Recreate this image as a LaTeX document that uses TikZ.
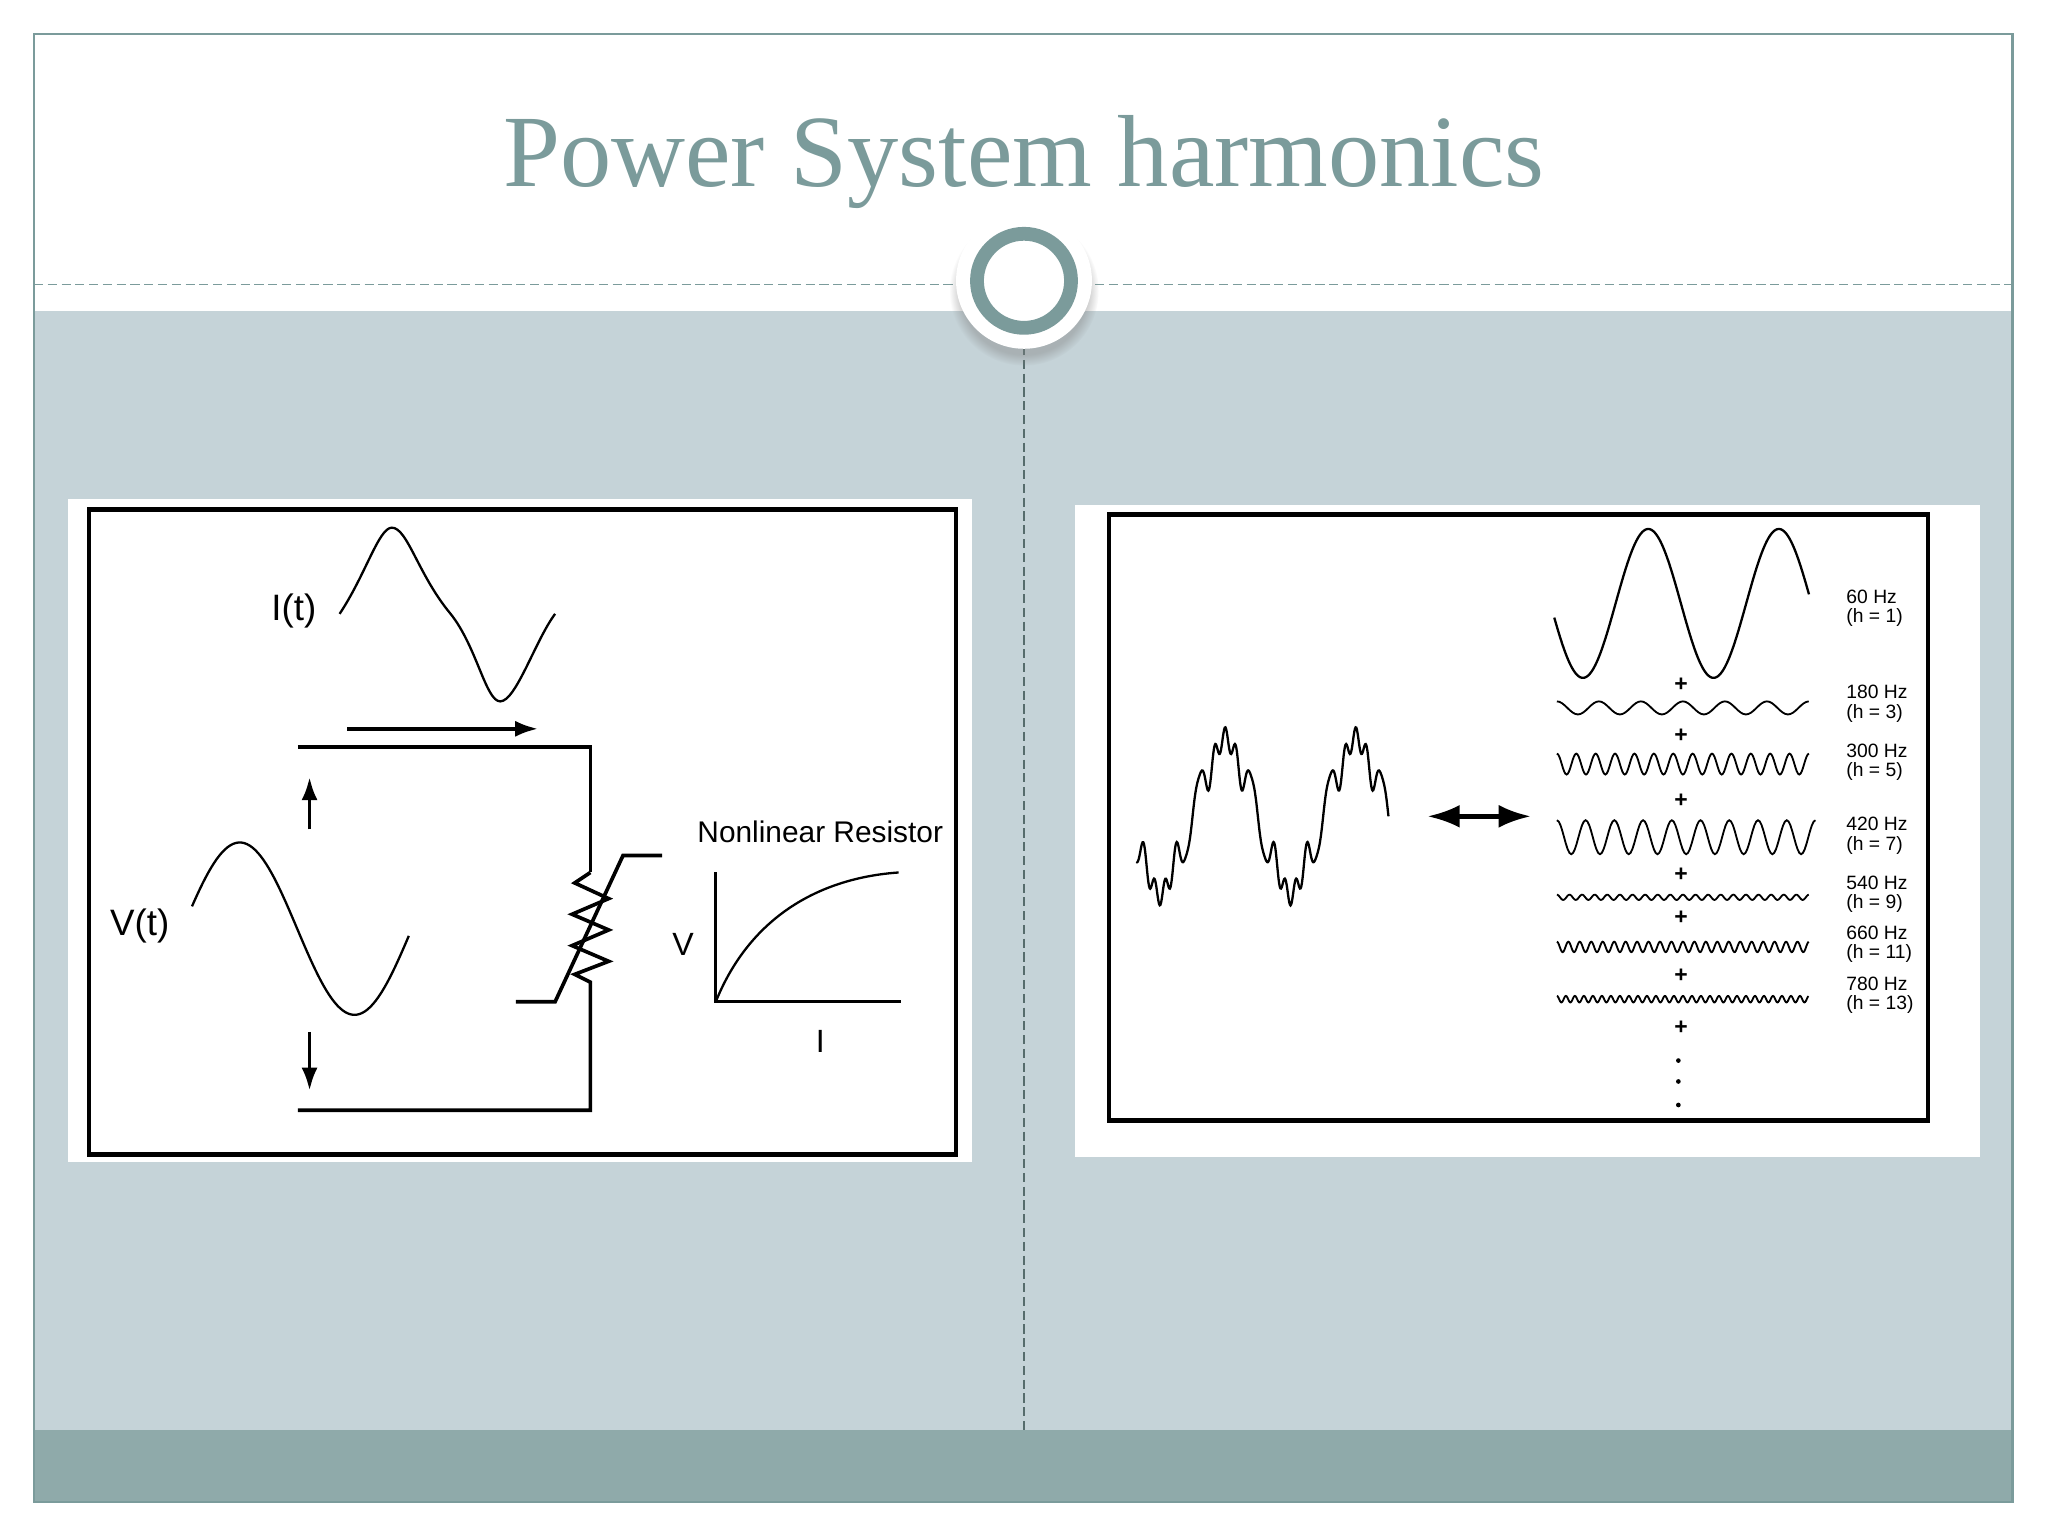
\documentclass[tikz,border=0pt]{standalone}
\usepackage{fontspec}
\setmainfont{Liberation Sans}
\newfontfamily\ttl{Liberation Serif}
\usetikzlibrary{arrows.meta,shadows}
\definecolor{teal}{HTML}{7B9B9B}
\definecolor{bg}{HTML}{C5D3D8}
\definecolor{band}{HTML}{8FAAAA}
\begin{document}
\begin{tikzpicture}[x=0.01cm,y=-0.01cm,
  wave/.style={line width=0.5pt},
  lbl/.style={font=\fontsize{4.2}{5}\selectfont,anchor=west,inner sep=0},
  plus/.style={font=\fontsize{5}{5}\selectfont\bfseries,inner sep=0},
  arr/.style={-{Latex[length=5pt,width=3.5pt]},line width=0.8pt}]
\useasboundingbox (0,0) rectangle (1568,1176);
\fill[white] (0,0) rectangle (1568,1176);
\fill[bg] (26,238) rectangle (1541,1095);
\fill[band] (26,1095) rectangle (1541,1150);
\draw[teal,line width=0.6pt] (26,26) rectangle (1541,1150);
\node[font=\ttl\fontsize{22.3}{26}\selectfont,text=teal] (title) at (784,124) {Power System harmonics};
\draw[teal,dash pattern=on 2pt off 1pt,line width=0.3pt] (26,218) -- (1541,218);
\draw[teal!70!black,dash pattern=on 2pt off 1pt,line width=0.3pt] (784,265) -- (784,1095);
\node[circle,fill=white,minimum size=1.04cm,inner sep=0,circular drop shadow={shadow xshift=0pt,shadow yshift=-2pt,opacity=0.4}] (ring) at (784,215) {};
\draw[teal,line width=3pt] (ring.center) circle[radius=36];
% left panel
\fill[white] (52,382) rectangle (744,890);
\draw[line width=1pt] (68,390) rectangle (732,884);
\node[font=\fontsize{8}{9}\selectfont] (it) at (225,468) {I(t)};
\draw[wave] (260,470) .. controls (280,440) and (290,404) .. (300,404) .. controls (312,404) and (320,440) .. (345,470) .. controls (365,495) and (372,537) .. (383,537) .. controls (395,537) and (410,490) .. (425,470);
\coordinate (a1) at (266,558); \coordinate (a2) at (412,558);
\draw[arr] (a1) -- (a2);
\draw[line width=0.8pt] (228,572) -- (452,572) -- (452,668);
\draw[line width=0.8pt] (452,668) -- (440,676) -- (466,688) -- (438,700) -- (466,712) -- (438,724) -- (466,736) -- (440,746) -- (452,752) -- (452,850) -- (228,850);
\draw[line width=0.8pt] (395,767) -- (425,767) -- (477,655) -- (507,655);
\draw[arr] (237,635) -- (237,595);
\draw[arr] (237,790) -- (237,835);
\node[font=\fontsize{8}{9}\selectfont] (vt) at (107,709) {V(t)};
\draw[wave] plot[domain=0:315,samples=80] ({147+\x/315*166},{711-66*sin(\x*1.08+15)});
\node[font=\fontsize{6.5}{8}\selectfont] (nr) at (628,637) {Nonlinear Resistor};
\draw[line width=0.6pt] (548,668) -- (548,767) -- (690,767);
\draw[wave] (548,767) .. controls (575,700) and (630,672) .. (688,668);
\node[font=\fontsize{7}{8}\selectfont] (v) at (523,723) {V};
\node[font=\fontsize{7}{8}\selectfont] (i) at (628,797) {I};
% right panel
\fill[white] (823,387) rectangle (1516,886);
\draw[line width=1pt] (849,394) rectangle (1476,858);
\draw[wave] plot[domain=205:900,samples=400] ({870+(\x-205)/3.6},{625-55*(sin(\x)+0.18*sin(5*\x)+0.12*sin(7*\x)-0.1*sin(11*\x)+0.08*sin(13*\x))});
\coordinate (d1) at (1093,625); \coordinate (d2) at (1172,625);
\draw[{Latex[length=7pt,width=5pt]}-{Latex[length=7pt,width=5pt]},line width=1pt] (d1) -- (d2);
\draw[wave] plot[domain=191:893,samples=200] ({1190+(\x-191)/3.6},{462-57*sin(\x)});
\foreach \yy/\amp/\cyc/\xe in {542/5/6/1385, 585/8/13/1385, 641/13/9/1390, 687/2/20/1385, 725/4/22/1385, 765/2.5/28/1385}{
  \draw[line width=0.4pt] plot[domain=0:1,samples=\cyc*16+1] ({1192+\x*(\xe-1192)},{\yy-\amp*cos(\x*\cyc*360)});
}
\foreach \yy/\a/\b in {457/60 Hz/(h = 1), 530/180 Hz/(h = 3), 575/300 Hz/(h = 5), 631/420 Hz/(h = 7), 676/540 Hz/(h = 9), 714/660 Hz/(h = 11), 753/780 Hz/(h = 13)}{
  \node[lbl] at (1413,\yy) {\a};
  \node[lbl] at (1413,\yy+16) {\b};
}
\foreach \yy in {524,563,613,670,703,747,787}{\node[plus] at (1287,\yy) {+};}
\foreach \yy in {812,828,846}{\fill (1285,\yy) circle[radius=1.8];}
\end{tikzpicture}
\end{document}
